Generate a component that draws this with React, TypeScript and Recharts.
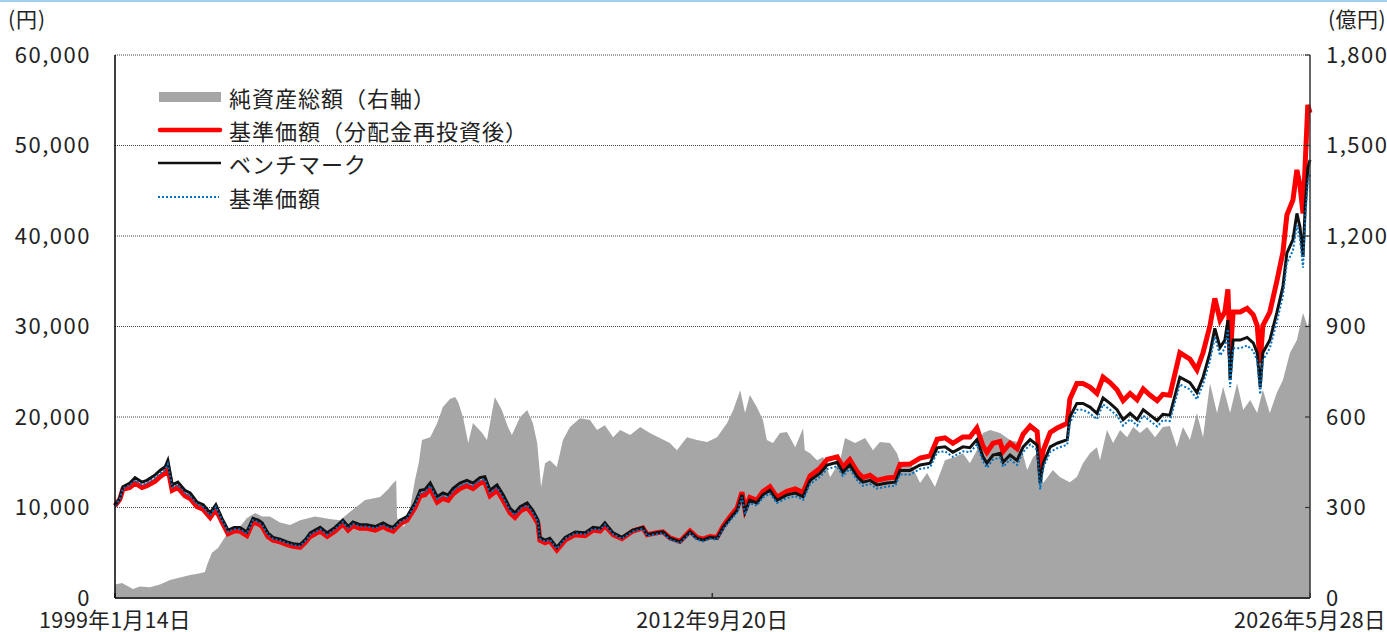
import React from "react";
import { ComposedChart, Area, Line, XAxis, YAxis, CartesianGrid } from "recharts";

// 純資産総額（億円）
const navDates = [
  1999.04, 1999.2, 1999.45, 1999.61, 1999.84, 2000.07, 2000.3, 2000.53, 2000.76, 2000.99,
  2001.1, 2001.15, 2001.26, 2001.4, 2001.56, 2001.72, 2001.9, 2002.06, 2002.25, 2002.41,
  2002.59, 2002.82, 2003.05, 2003.28, 2003.62, 2003.96, 2004.19, 2004.42, 2004.77, 2005.11,
  2005.29, 2005.41, 2005.48, 2005.5, 2005.66, 2005.8, 2005.91, 2006.0, 2006.07, 2006.26,
  2006.42, 2006.55, 2006.71, 2006.83, 2006.9, 2007.01, 2007.13, 2007.24, 2007.45, 2007.56,
  2007.68, 2007.74, 2007.9, 2008.04, 2008.13, 2008.32, 2008.48, 2008.61, 2008.71, 2008.8,
  2008.89, 2009.0, 2009.16, 2009.3, 2009.46, 2009.69, 2009.92, 2010.08, 2010.26, 2010.45,
  2010.61, 2010.84, 2011.07, 2011.29, 2011.52, 2011.75, 2011.91, 2012.14, 2012.37, 2012.6,
  2012.83, 2013.06, 2013.2, 2013.36, 2013.47, 2013.58, 2013.74, 2013.88, 2013.97, 2014.11,
  2014.27, 2014.43, 2014.62, 2014.8, 2014.84, 2014.96, 2015.12, 2015.26, 2015.42, 2015.65,
  2015.76, 2015.99, 2016.22, 2016.4, 2016.56, 2016.79, 2016.95, 2017.02, 2017.25, 2017.48,
  2017.64, 2017.82, 2018.05, 2018.28, 2018.46, 2018.62, 2018.78, 2018.92, 2019.08, 2019.31,
  2019.54, 2019.77, 2019.93, 2020.07, 2020.16, 2020.3, 2020.52, 2020.68, 2020.91, 2021.07,
  2021.21, 2021.37, 2021.53, 2021.6, 2021.76, 2021.9, 2022.06, 2022.22, 2022.36, 2022.52,
  2022.68, 2022.86, 2023.04, 2023.2, 2023.36, 2023.5, 2023.66, 2023.82, 2023.96, 2024.12,
  2024.28, 2024.42, 2024.58, 2024.74, 2024.88, 2025.04, 2025.2, 2025.33, 2025.49, 2025.65,
  2025.79, 2025.95, 2026.11, 2026.25, 2026.36, 2026.41,
];
const navValues = [
  45, 50, 30, 38, 36, 45, 60, 68, 76, 82,
  86, 110, 150, 166, 202, 235, 235, 265, 282, 270,
  270, 250, 242, 258, 270, 262, 258, 285, 325, 335,
  360, 380, 390, 265, 235, 300, 390, 450, 524, 533,
  580, 633, 660, 666, 650, 600, 514, 580, 547, 524,
  620, 666, 623, 567, 540, 600, 623, 580, 514, 368,
  447, 457, 434, 524, 567, 596, 590, 557, 573, 533,
  557, 540, 567, 547, 530, 514, 490, 533, 524, 517,
  533, 580, 623, 689, 613, 673, 633, 590, 524, 514,
  547, 550, 500, 563, 490, 480, 457, 467, 400, 457,
  530, 514, 530, 490, 517, 514, 480, 450, 450, 381,
  414, 368, 457, 467, 480, 447, 490, 547, 557, 547,
  524, 514, 424, 467, 480, 381, 424, 401, 384, 401,
  447, 480, 500, 457, 557, 514, 557, 533, 567, 547,
  567, 533, 567, 570, 500, 567, 524, 613, 533, 712,
  613, 700, 613, 712, 623, 656, 613, 690, 613, 680,
  723, 812, 855, 945, 898, 955,
];

// 基準価額・ベンチマーク（円）
const priceDates = [
  1999.04, 1999.15, 1999.22, 1999.38, 1999.5, 1999.66, 1999.77, 1999.96, 2000.07, 2000.19,
  2000.25, 2000.35, 2000.48, 2000.64, 2000.76, 2000.92, 2001.06, 2001.22, 2001.35, 2001.49,
  2001.63, 2001.77, 2001.9, 2002.06, 2002.2, 2002.32, 2002.41, 2002.54, 2002.66, 2002.82,
  2002.98, 2003.12, 2003.28, 2003.41, 2003.51, 2003.74, 2003.9, 2004.08, 2004.26, 2004.38,
  2004.49, 2004.65, 2004.81, 2005.0, 2005.18, 2005.29, 2005.41, 2005.57, 2005.73, 2005.91,
  2006.03, 2006.14, 2006.26, 2006.42, 2006.55, 2006.67, 2006.78, 2006.94, 2007.1, 2007.24,
  2007.4, 2007.51, 2007.63, 2007.79, 2007.93, 2008.09, 2008.2, 2008.32, 2008.48, 2008.61,
  2008.73, 2008.77, 2008.89, 2009.0, 2009.16, 2009.35, 2009.58, 2009.81, 2009.99, 2010.15,
  2010.26, 2010.45, 2010.65, 2010.9, 2011.13, 2011.23, 2011.45, 2011.59, 2011.75, 2011.98,
  2012.21, 2012.37, 2012.51, 2012.67, 2012.83, 2012.97, 2013.13, 2013.29, 2013.4, 2013.47,
  2013.58, 2013.74, 2013.88, 2014.04, 2014.2, 2014.43, 2014.62, 2014.8, 2014.96, 2015.19,
  2015.35, 2015.58, 2015.71, 2015.87, 2016.04, 2016.17, 2016.33, 2016.49, 2016.72, 2016.91,
  2017.02, 2017.25, 2017.48, 2017.71, 2017.87, 2018.05, 2018.23, 2018.46, 2018.62, 2018.78,
  2018.92, 2019.01, 2019.15, 2019.31, 2019.38, 2019.54, 2019.7, 2019.84, 2020.0, 2020.16,
  2020.23, 2020.3, 2020.46, 2020.62, 2020.85, 2020.91, 2021.07, 2021.21, 2021.37, 2021.53,
  2021.67, 2021.83, 2021.99, 2022.13, 2022.29, 2022.45, 2022.59, 2022.75, 2022.91, 2023.04,
  2023.2, 2023.43, 2023.66, 2023.82, 2023.96, 2024.12, 2024.23, 2024.35, 2024.46, 2024.53,
  2024.58, 2024.65, 2024.81, 2024.97, 2025.11, 2025.2, 2025.27, 2025.33, 2025.49, 2025.65,
  2025.79, 2025.88, 2026.02, 2026.11, 2026.18, 2026.25, 2026.3, 2026.36, 2026.41,
];
const reinvested = [
  10200, 10900, 12000, 12200, 12700, 12200, 12400, 12900, 13400, 13800,
  14400, 11900, 12200, 11300, 11000, 10100, 9800, 8900, 9800, 8400,
  7100, 7400, 7400, 6900, 8400, 8200, 7900, 6800, 6400, 6200,
  5900, 5700, 5600, 6200, 6800, 7400, 6800, 7400, 8200, 7500,
  8000, 7700, 7700, 7500, 7900, 7600, 7400, 8200, 8600, 10000,
  11300, 11400, 12100, 10600, 11000, 10800, 11500, 12100, 12400, 12100,
  12700, 12800, 11300, 11900, 10800, 9400, 8900, 9600, 10000, 9200,
  8200, 6400, 6100, 6300, 5300, 6400, 7000, 6900, 7500, 7400,
  8000, 7000, 6550, 7400, 7750, 7000, 7200, 7300, 6650, 6250,
  7400, 6700, 6500, 6800, 6700, 7950, 9000, 9950, 11700, 9750,
  11100, 10800, 11750, 12300, 11150, 11800, 12050, 11650, 13500, 14350,
  15300, 15600, 14450, 15300, 13950, 13300, 13550, 13000, 13250, 13350,
  14750, 14800, 15450, 15700, 17550, 17700, 17100, 17800, 17800, 18800,
  16800, 16100, 17100, 17300, 16200, 17100, 16500, 18100, 19000, 18400,
  14100, 16300, 18300, 18800, 19300, 22000, 23700, 23700, 23300, 22600,
  24400, 23800, 23000, 21800, 22600, 21900, 23100, 22400, 21800, 22500,
  22400, 27100, 26400, 25200, 27100, 30100, 33100, 30700, 31600, 34100,
  26800, 31600, 31600, 32000, 31300, 30100, 26000, 30100, 31600, 35000,
  38200, 42300, 44000, 47300, 45600, 42500, 48000, 54500, 53600,
];
const benchmark = [
  10200, 11000, 12300, 12700, 13300, 12800, 13000, 13600, 14100, 14500,
  15200, 12500, 12800, 11900, 11600, 10600, 10300, 9400, 10300, 8800,
  7500, 7800, 7800, 7300, 8800, 8600, 8300, 7200, 6700, 6500,
  6200, 6000, 5900, 6500, 7200, 7800, 7200, 7800, 8600, 7900,
  8400, 8100, 8100, 7900, 8300, 8000, 7800, 8600, 9000, 10500,
  11900, 12000, 12700, 11200, 11600, 11400, 12100, 12700, 13000, 12700,
  13300, 13400, 11900, 12500, 11400, 9900, 9400, 10100, 10500, 9700,
  8600, 6700, 6400, 6600, 5600, 6700, 7300, 7200, 7800, 7700,
  8300, 7200, 6700, 7500, 7800, 7000, 7200, 7300, 6600, 6200,
  7300, 6600, 6400, 6700, 6600, 7800, 8800, 9700, 11400, 9500,
  10800, 10500, 11400, 11900, 10800, 11400, 11600, 11200, 13000, 13800,
  14700, 15000, 13900, 14700, 13400, 12800, 13000, 12500, 12700, 12800,
  14100, 14100, 14700, 14900, 16600, 16700, 16100, 16700, 16600, 17500,
  15600, 14900, 15800, 16000, 15000, 15800, 15200, 16700, 17500, 16900,
  12700, 14900, 16700, 17100, 17500, 20000, 21500, 21500, 21100, 20400,
  22100, 21500, 20800, 19700, 20400, 19700, 20800, 20200, 19600, 20300,
  20200, 24400, 23800, 22700, 24400, 27100, 29800, 27700, 28500, 30700,
  24100, 28500, 28500, 28800, 28200, 27100, 23300, 27100, 28500, 31500,
  34400, 38100, 39600, 42500, 41000, 37700, 43200, 47500, 48400,
];
const price = [
  10200, 10950, 12100, 12450, 13000, 12500, 12700, 13300, 13750, 14150,
  14800, 12200, 12500, 11600, 11300, 10350, 10050, 9150, 10050, 8600,
  7300, 7600, 7600, 7100, 8600, 8400, 8100, 7000, 6550, 6350,
  6050, 5850, 5750, 6350, 7000, 7600, 7000, 7600, 8400, 7700,
  8200, 7900, 7900, 7700, 8100, 7800, 7600, 8400, 8800, 10250,
  11600, 11700, 12400, 10900, 11300, 11100, 11800, 12400, 12700, 12400,
  13000, 13100, 11600, 12200, 11100, 9650, 9150, 9850, 10250, 9450,
  8400, 6550, 6250, 6450, 5450, 6550, 7150, 7050, 7650, 7550,
  8100, 7050, 6550, 7350, 7650, 6850, 7050, 7150, 6450, 6050,
  7150, 6450, 6250, 6550, 6450, 7600, 8550, 9450, 11100, 9250,
  10500, 10200, 11100, 11550, 10500, 11050, 11250, 10850, 12600, 13400,
  14250, 14550, 13500, 14250, 13000, 12400, 12600, 12100, 12300, 12400,
  13650, 13650, 14250, 14450, 16100, 16200, 15600, 16200, 16100, 16950,
  15100, 14400, 15300, 15500, 14500, 15300, 14700, 16150, 16950, 16350,
  12000, 14400, 16150, 16550, 16950, 19350, 20800, 20800, 20400, 19750,
  21400, 20800, 20150, 19050, 19750, 19050, 20150, 19550, 18950, 19650,
  19550, 23600, 23050, 21950, 23600, 26250, 28850, 26800, 27600, 29700,
  23300, 27600, 27600, 27900, 27300, 26250, 22500, 26250, 27600, 30500,
  33400, 37000, 38400, 41200, 39700, 36500, 41900, 46000, 46800,
];

const xTicks = [1999.04, 2012.72, 2026.41];
const xTickLabels = ["1999年1月14日", "2012年9月20日", "2026年5月28日"];
const leftTicks = [0, 10000, 20000, 30000, 40000, 50000, 60000];
const rightTicks = [0, 300, 600, 900, 1200, 1500, 1800];

const navData = navDates.map((t, i) => ({ t, nav: navValues[i] }));
const lineData = priceDates.map((t, i) => ({
  t,
  reinvested: reinvested[i],
  benchmark: benchmark[i],
  price: price[i],
}));

const FONT = "'Noto Sans CJK JP', 'Noto Sans', sans-serif";
const yTickStyle = { fontSize: 22, fill: "#222", fontFamily: FONT, letterSpacing: 1.5 };
const xTickStyle = { fontSize: 21.5, fill: "#222", fontFamily: FONT, letterSpacing: 0.4 };

function LegendBox() {
  const row = (icon: React.ReactNode, label: string, top: number) => (
    <div style={{ position: "absolute", left: 0, top, height: 34, display: "flex", alignItems: "center" }}>
      <svg width={70} height={20} style={{ marginRight: 2 }}>
        {icon}
      </svg>
      <span style={{ fontSize: 22, letterSpacing: 1, color: "#222", whiteSpace: "nowrap" }}>{label}</span>
    </div>
  );
  return (
    <div style={{ position: "absolute", left: 157, top: 80, fontFamily: FONT }}>
      {row(<rect x={2} y={5} width={62} height={10} fill="#A6A6A6" />, "純資産総額（右軸）", 0)}
      {row(<line x1={3} y1={10} x2={63} y2={10} stroke="#FF0000" strokeWidth={4.5} strokeLinecap="round" />, "基準価額（分配金再投資後）", 33)}
      {row(<line x1={1} y1={10} x2={64} y2={10} stroke="#111" strokeWidth={2.5} />, "ベンチマーク", 66)}
      {row(<line x1={1} y1={10} x2={62} y2={10} stroke="#0070C0" strokeWidth={2} strokeDasharray="2 2" />, "基準価額", 100)}
    </div>
  );
}

export default function App() {
  return (
    <div style={{ position: "absolute", left: 0, top: 0, width: 1387, height: 632, background: "#fff", fontFamily: FONT }}>
      <div style={{ position: "absolute", left: 0, top: 0, width: 1387, height: 2, background: "#9fd0f0" }} />
      <ComposedChart width={1387} height={632} margin={{ top: 55, right: 0, bottom: 0, left: 0 }}>
        <CartesianGrid yAxisId="left" vertical={false} stroke="#444" strokeDasharray="1 1" />
        <Area
          yAxisId="right"
          data={navData}
          dataKey="nav"
          type="linear"
          fill="#A6A6A6"
          fillOpacity={1}
          stroke="none"
          isAnimationActive={false}
          activeDot={false}
        />
        <XAxis
          dataKey="t"
          type="number"
          domain={[1999.04, 2026.41]}
          ticks={xTicks}
          interval={0}
          tickFormatter={(v: number) => xTickLabels[xTicks.indexOf(v)] ?? ""}
          tick={xTickStyle}
          tickLine={{ stroke: "#333", strokeWidth: 1.5 }}
          tickSize={-5}
          tickMargin={20}
          height={34}
          axisLine={{ stroke: "#333", strokeWidth: 2 }}
          allowDuplicatedCategory={false}
        />
        <YAxis
          yAxisId="left"
          domain={[0, 60000]}
          ticks={leftTicks}
          interval={0}
          tickFormatter={(v: number) => v.toLocaleString("en-US")}
          tick={yTickStyle}
          tickLine={false}
          tickMargin={18}
          width={115}
          axisLine={{ stroke: "#000", strokeWidth: 1.5 }}
        />
        <YAxis
          yAxisId="right"
          orientation="right"
          domain={[0, 1800]}
          ticks={rightTicks}
          interval={0}
          tickFormatter={(v: number) => v.toLocaleString("en-US")}
          tick={{ ...yTickStyle, textAnchor: "start" }}
          tickLine={{ stroke: "#333", strokeWidth: 1.2 }}
          tickSize={-5}
          tickMargin={21}
          width={77}
          axisLine={{ stroke: "#333", strokeWidth: 1.5 }}
        />
        <Line
          yAxisId="left"
          data={lineData}
          dataKey="reinvested"
          type="linear"
          stroke="#FF0000"
          strokeWidth={5}
          dot={false}
          activeDot={false}
          isAnimationActive={false}
        />
        <Line
          yAxisId="left"
          data={lineData}
          dataKey="benchmark"
          type="linear"
          stroke="#111"
          strokeWidth={3}
          dot={false}
          activeDot={false}
          isAnimationActive={false}
        />
        <Line
          yAxisId="left"
          data={lineData}
          dataKey="price"
          type="linear"
          stroke="#0070C0"
          strokeWidth={2}
          strokeDasharray="2 2"
          dot={false}
          activeDot={false}
          isAnimationActive={false}
        />
      </ComposedChart>
      <div style={{ position: "absolute", left: 8, top: 3, fontSize: 21, letterSpacing: 1, color: "#222" }}>(円)</div>
      <div style={{ position: "absolute", left: 1328, top: 3, fontSize: 21, letterSpacing: 0.5, color: "#222" }}>(億円)</div>
      <LegendBox />
    </div>
  );
}
